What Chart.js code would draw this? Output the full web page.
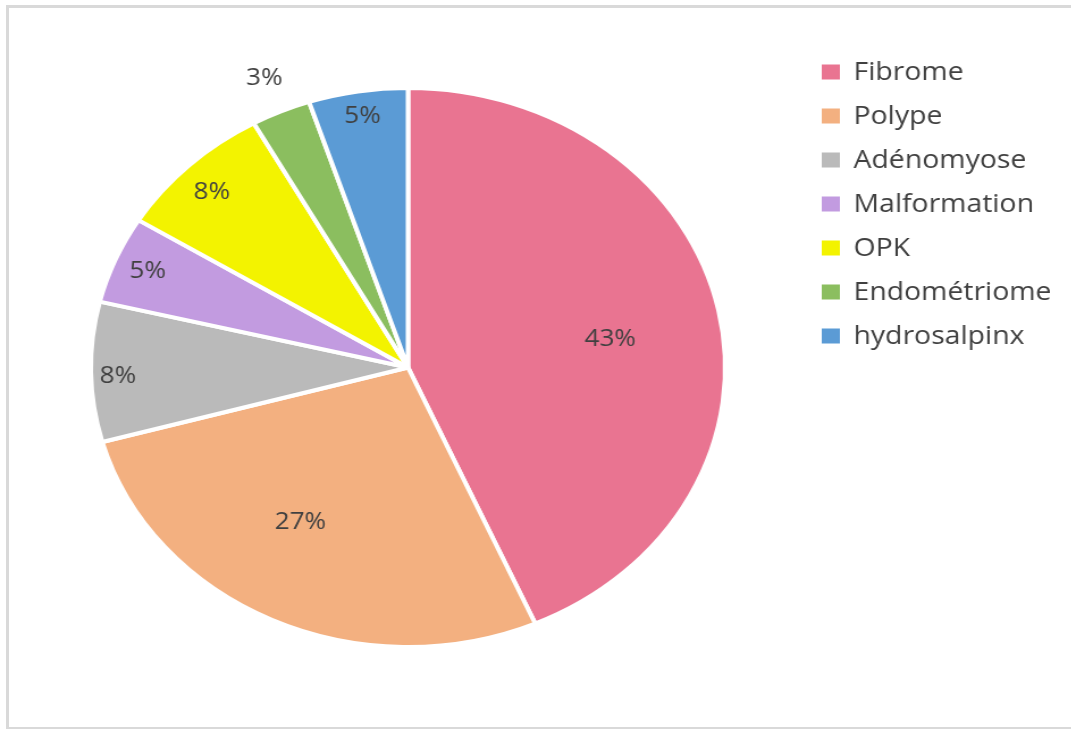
<!DOCTYPE html>
<html>
<head>
<meta charset="utf-8">
<script src="https://cdn.jsdelivr.net/npm/chart.js@4.4.1/dist/chart.umd.min.js"></script>
<style>
  html, body { margin:0; padding:0; background:#fff; overflow:hidden; }
  body { width:1071px; height:729px; position:relative; }
  .frame {
    position:absolute; left:6px; top:5px; width:1065px; height:719px;
    border:3px solid #d9d9d9; border-right:0; box-sizing:content-box;
  }
  /* the chart is drawn narrow and stretched sideways */
  .wrap {
    position:absolute; left:0; top:0; width:944px; height:729px;
    transform:scaleX(1.135); transform-origin:0 0;
  }
</style>
</head>
<body>
<div class="frame"></div>
<div class="wrap"><canvas id="c-pie" width="944" height="729"></canvas></div>
<script>
/* ── Data ─────────────────────────────────────────────────── */
const LABELS = ["Fibrome","Polype","Adénomyose","Malformation","OPK","Endométriome","hydrosalpinx"];
const VALUES = [43, 27, 8, 5, 8, 3, 5];
const COLORS = ["#e97491","#f3b080","#bababa","#c29be0","#f3f300","#8bbe5f","#5b9bd5"];

// where each % label sits: [fraction of radius, angle nudge in degrees]
const LABEL_POS = [[0.645, 3], [0.65, 6], [0.915, -1], [0.89, 0], [0.88, -1], [1.13, 0], [0.91, 0]];

const FONT = "'Open Sans', 'Liberation Sans', sans-serif";

/* ── Percent labels on the slices ─────────────────────────── */
const sliceLabels = {
  id: "sliceLabels",
  afterDatasetsDraw(chart) {
    const ctx = chart.ctx;
    const meta = chart.getDatasetMeta(0);
    ctx.save();
    ctx.font = "23px " + FONT;
    ctx.fillStyle = "#404040";
    ctx.textAlign = "center";
    ctx.textBaseline = "middle";
    meta.data.forEach((arc, i) => {
      const p = arc.getProps(["x","y","startAngle","endAngle","outerRadius"], true);
      const [f, nudge] = LABEL_POS[i];
      const a = (p.startAngle + p.endAngle) / 2 + nudge * Math.PI / 180;
      const r = p.outerRadius * f;
      ctx.fillText(VALUES[i] + "%", p.x + Math.cos(a) * r, p.y + Math.sin(a) * r);
    });
    ctx.restore();
  },
};

/* ── Legend on the right ──────────────────────────────────── */
const sideLegend = {
  id: "sideLegend",
  afterDraw(chart) {
    const ctx = chart.ctx;
    const x0 = 724, y0 = 72, step = 44;
    ctx.save();
    ctx.font = "25px " + FONT;
    ctx.textAlign = "left";
    ctx.textBaseline = "middle";
    chart.data.labels.forEach((lbl, i) => {
      const y = y0 + i * step;
      ctx.fillStyle = COLORS[i];
      ctx.fillRect(x0, y - 7.5, 16, 15);
      ctx.fillStyle = "#404040";
      ctx.fillText(lbl, x0 + 28, y + 1);
    });
    ctx.restore();
  },
};

new Chart(document.getElementById("c-pie"), {
  type: "pie",
  data: {
    labels: LABELS,
    datasets: [{
      data: VALUES,
      backgroundColor: COLORS,
      borderColor: "#ffffff",
      borderWidth: 4,
    }],
  },
  options: {
    responsive: false,
    animation: false,
    radius: 279.5,
    layout: { padding: { left: 78, top: 86, right: 303, bottom: 80 } },
    plugins: { legend: { display: false }, tooltip: { enabled: false } },
  },
  plugins: [sliceLabels, sideLegend],
});
</script>
</body>
</html>
